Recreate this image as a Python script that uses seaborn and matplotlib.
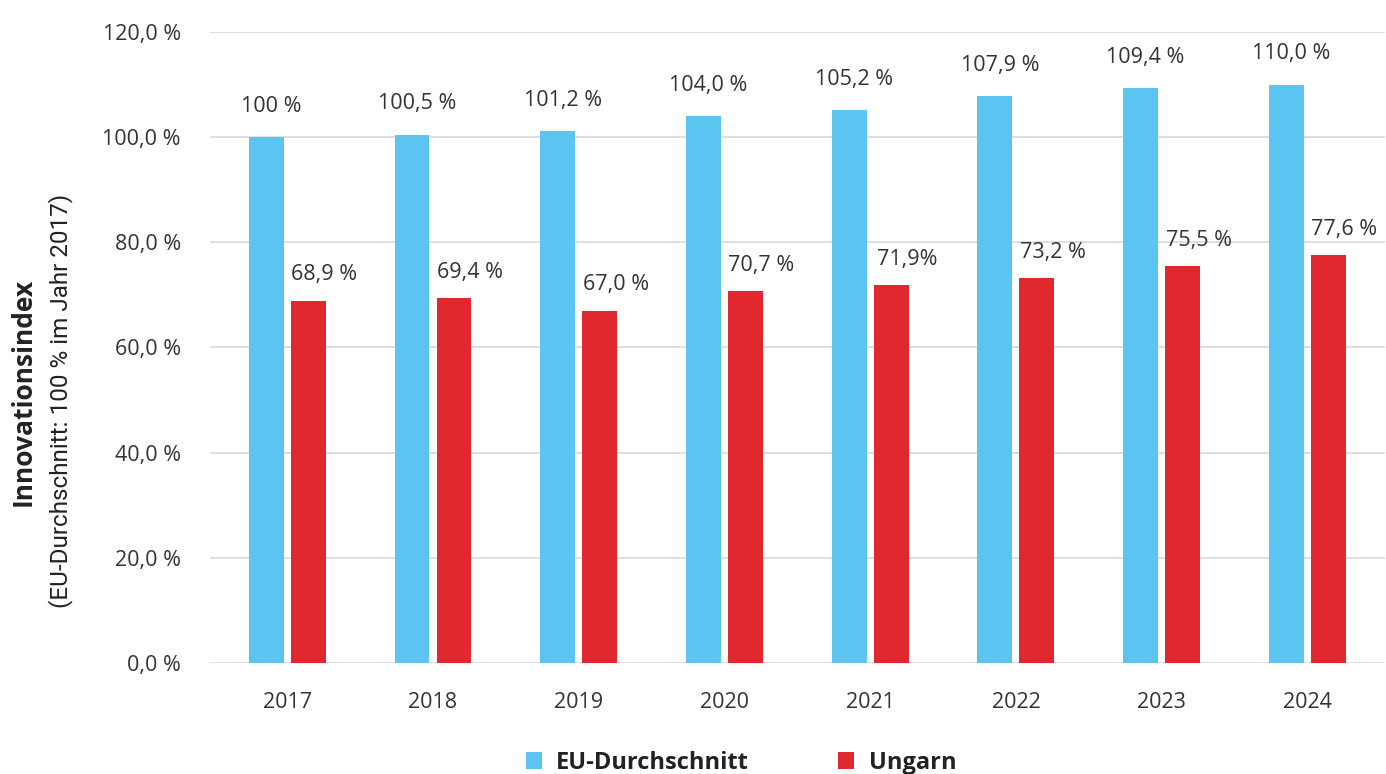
import pandas as pd
import matplotlib
matplotlib.use("Agg")
import matplotlib.pyplot as plt
import seaborn as sns

years = ["2017", "2018", "2019", "2020", "2021", "2022", "2023", "2024"]
eu_values = [100.0, 100.5, 101.2, 104.0, 105.2, 107.9, 109.4, 110.0]
hu_values = [68.9, 69.4, 67.0, 70.7, 71.9, 73.2, 75.5, 77.6]
eu_labels = ["100 %", "100,5 %", "101,2 %", "104,0 %", "105,2 %", "107,9 %", "109,4 %", "110,0 %"]
hu_labels = ["68,9 %", "69,4 %", "67,0 %", "70,7 %", "71,9%", "73,2 %", "75,5 %", "77,6 %"]
series = ["EU-Durchschnitt", "Ungarn"]
y_ticks = [0, 20, 40, 60, 80, 100, 120]
y_tick_labels = ["0,0 %", "20,0 %", "40,0 %", "60,0 %", "80,0 %", "100,0 %", "120,0 %"]

df = pd.DataFrame({
    "Jahr": years * 2,
    "Wert": eu_values + hu_values,
    "Reihe": [series[0]] * len(years) + [series[1]] * len(years),
})

sns.set_theme(style="white")
plt.rcParams["font.family"] = ["Open Sans", "DejaVu Sans"]
text_color = "#333333"

fig = plt.figure(figsize=(13.86, 7.74), dpi=100)
ax = fig.add_axes([0.1515, 0.1434, 0.8475, 0.8153])

sns.barplot(data=df, x="Jahr", y="Wert", hue="Reihe", order=years, hue_order=series,
            palette=["#5BC4F0", "#E0282E"], width=0.576, gap=0.17, saturation=1,
            linewidth=0, ax=ax)

ax.set_ylim(0, 120)
ax.set_xlim(-0.53, len(years) - 0.47)
ax.set_yticks(y_ticks)
ax.set_yticklabels(y_tick_labels)
ax.yaxis.grid(True, color="#D9D9D9", linewidth=1.2)
ax.set_axisbelow(True)
for s in ax.spines.values():
    s.set_visible(False)
ax.tick_params(axis="both", length=0, labelsize=15.5, colors=text_color)
ax.tick_params(axis="x", pad=21)
ax.tick_params(axis="y", pad=21)
ax.set_xlabel("")
ax.set_ylabel("")

# value labels above the bars
for i in range(len(years)):
    ax.annotate(eu_labels[i], (i - 0.144, eu_values[i]), xytext=(3.6, 22),
                textcoords="offset points", ha="center", va="center",
                fontsize=15.5, color=text_color)
    ax.annotate(hu_labels[i], (i + 0.144, hu_values[i]), xytext=(11.5, 18.5),
                textcoords="offset points", ha="center", va="center",
                fontsize=15.5, color=text_color)

# y-axis title
fig.text(0.017, 0.493, "Innovationsindex", rotation=90, ha="center", va="center",
         fontsize=19, fontweight="bold", color="#222222")
fig.text(0.044, 0.482, "(EU-Durchschnitt: 100 % im Jahr 2017)", rotation=90,
         ha="center", va="center", fontsize=17.5, color="#222222",
         family=["Roboto", "DejaVu Sans"])

sns.move_legend(ax, "center", bbox_to_anchor=(0.452, -0.158), ncol=2,
                frameon=False, title=None, handlelength=0.68, handleheight=0.68,
                handletextpad=0.6, columnspacing=3.8,
                prop={"size": 17, "weight": "bold"})
for t in ax.get_legend().get_texts():
    t.set_color("#222222")

fig.savefig("out.png", dpi=100)
